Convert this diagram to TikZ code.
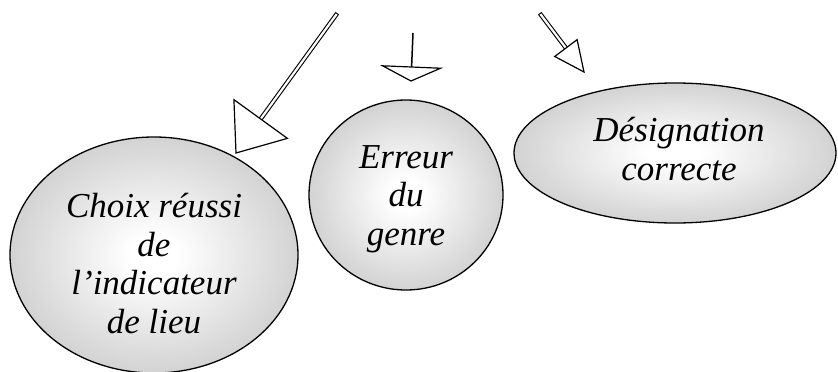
\documentclass[tikz,border=0pt]{standalone}
\usepackage{fontspec}
\setmainfont{Liberation Serif}
\usetikzlibrary{shapes.geometric,calc}
\pgfdeclareradialshading{ballgray}{\pgfpoint{0bp}{0bp}}{color(0bp)=(white); color(4bp)=(white); color(33bp)=(black!24); color(50bp)=(black!27)}
\tikzset{
  bubble/.style={ellipse, draw=black, line width=1.3pt, shading=ballgray, inner sep=0pt},
  bubbletext/.style={align=center, inner sep=0pt, text=black, font=\fontsize{35}{38.5}\selectfont\itshape},
  headtri/.style={draw=black, fill=white, line width=1.2pt, line join=miter},
  dshaft/.style={double=white, double distance=2.2pt, line width=1.1pt, draw=black, line cap=rect},
  sshaft/.style={draw=black, line width=1.5pt}
}
\begin{document}
\begin{tikzpicture}[x=1pt,y=-1pt]
\useasboundingbox (0,0) rectangle (838,372);
% bubbles
\node[bubble, minimum width=288pt, minimum height=236pt] (e1) at (154,255) {};
\node[bubble, minimum width=194pt, minimum height=190pt] (e2) at (406,195) {};
\node[bubble, minimum width=322pt, minimum height=140pt] (e3) at (675,153) {};
\node[bubbletext] (t1) at (154,263.5) {Choix réussi\\de\\l’indicateur\\de lieu};
\node[bubbletext] (t2) at (406,199) {Erreur\\du\\genre};
\node[bubbletext] (t3) at (679,149) {Désignation\\correcte};
% arrow A
\coordinate (aT) at (336,15);
\coordinate (aP) at (236,153);
\coordinate (aM) at ($(aP)!42pt!(aT)$);
\draw[dshaft] (aT) -- (aM);
\draw[headtri] ($(aM)!33pt!90:(aP)$) -- (aP) -- ($(aM)!33pt!-90:(aP)$) -- cycle;
% arrow B
\coordinate (bT) at (413,33);
\coordinate (bP) at (411,81);
\coordinate (bM) at ($(bP)!14pt!(bT)$);
\draw[sshaft] (bT) -- (bM);
\draw[headtri] ($(bM)!29pt!90:(bP)$) -- (bP) -- ($(bM)!29pt!-90:(bP)$) -- cycle;
% arrow C
\coordinate (cT) at (541,15);
\coordinate (cP) at (584,72);
\coordinate (cM) at ($(cP)!30pt!(cT)$);
\draw[dshaft] (cT) -- (cM);
\draw[headtri] ($(cM)!14pt!90:(cP)$) -- (cP) -- ($(cM)!14pt!-90:(cP)$) -- cycle;
\end{tikzpicture}
\end{document}
